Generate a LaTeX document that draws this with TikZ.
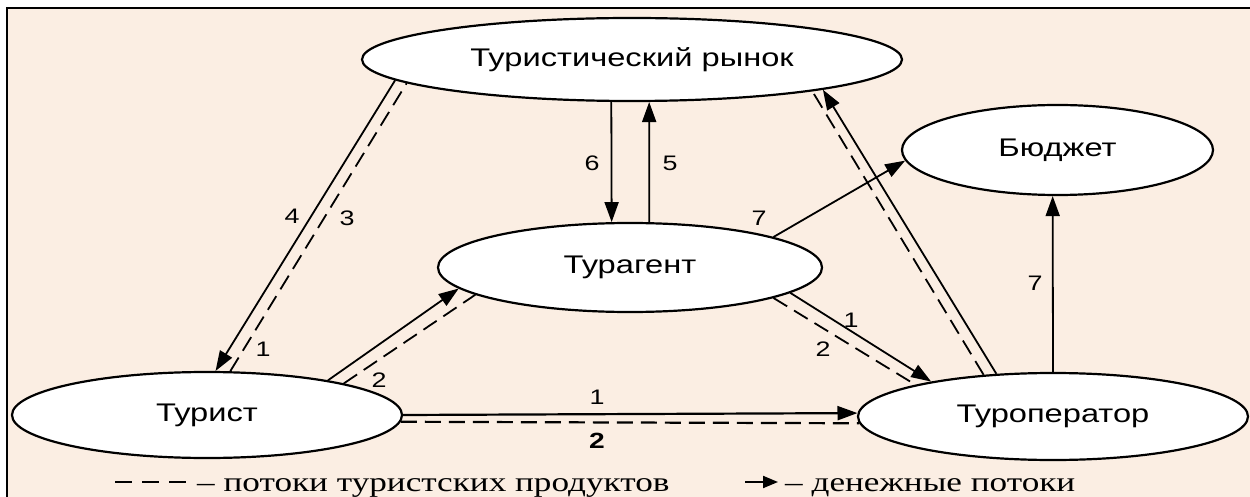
\documentclass[tikz,border=0pt]{standalone}
\usepackage{fontspec}
\setmainfont{Liberation Sans}[FakeStretch=1.28]
\newfontfamily\legendfont{Liberation Serif}[FakeStretch=1.28]
\usetikzlibrary{arrows.meta,shapes.geometric}
\definecolor{bgbeige}{RGB}{251,238,227}
\begin{document}
\begin{tikzpicture}[x=1pt,y=-1pt,
  ell/.style={ellipse, draw, fill=white, line width=2.2pt, inner sep=0pt, font=\fontsize{25.5}{27}\selectfont},
  money/.style={line width=1.8pt, -{Triangle[length=20pt,width=14pt]}},
  prod/.style={line width=1.8pt, dash pattern=on 16pt off 8pt},
  lbl/.style={inner sep=0pt, font=\fontsize{21}{23}\selectfont},
  legtext/.style={anchor=base west, inner sep=0pt, font=\legendfont\fontsize{27.5}{29}\selectfont}]
\useasboundingbox (0,0) rectangle (1250,497);
\fill[white] (0,0) rectangle (1250,497);
\fill[bgbeige] (7,8) rectangle (1250,497);
\draw[line width=2.5pt] (7,497) -- (7,8) -- (1250,8);

\node[ell, minimum width=540pt, minimum height=83pt] (M) at (632,59.5) {Туристический рынок};
\node[ell, minimum width=384pt, minimum height=89pt] (A) at (630,267.5) {Турагент};
\node[ell, minimum width=311pt, minimum height=90pt] (B) at (1057.5,150) {Бюджет};
\node[ell, minimum width=390pt, minimum height=86pt] (T) at (207,415) {Турист};
\node[ell, minimum width=390pt, minimum height=87pt] (O) at (1053,416.5) {Туроператор};

\draw[money] (M.185.2) -- (T.79.45);
\draw[prod] (T.62.76) -- (M.186.2);
\draw[money] (T.16.18) -- (A.187.5);
\draw[prod] (T.13.30) -- (A.190.15);
\draw[money, line width=2.2pt] (T.0.5) -- (O.179.06);
\draw[prod, line width=2.2pt] (T.-2.70) -- (O.182.24);
\draw[money] (A.-9.62) -- (O.164.05);
\draw[prod] (A.-12.27) -- (O.167.09);
\draw[money] (O.143.35) -- (M.-9.28);
\draw[prod] (O.149.89) -- (M.-10.74);
\draw[money] (M.244.2) -- (A.112.1);
\draw[money] (A.67.9) -- (M.-68.88);
\draw[money] (A.12.64) -- (B.184.73);
\draw[money] (O.north) -- (B.264.3);

\node[lbl] (l4) at (292,216) {4};
\node[lbl] (l3) at (347,218) {3};
\node[lbl] (l1a) at (263,349) {1};
\node[lbl] (l2a) at (379,380) {2};
\node[lbl] (l1b) at (597,397) {1};
\node[lbl, font=\fontsize{22}{24}\selectfont\bfseries] (l2b) at (597,441) {2};
\node[lbl] (l1c) at (851,320) {1};
\node[lbl] (l2c) at (823,349) {2};
\node[lbl] (l6) at (592,163) {6};
\node[lbl] (l5) at (670,163) {5};
\node[lbl] (l7a) at (759,218) {7};
\node[lbl] (l7b) at (1035,283) {7};

\coordinate (lgA) at (115,482);
\coordinate (lgB) at (187,482);
\draw[line width=2pt, dash pattern=on 17pt off 10pt] (lgA) -- (lgB);
\node[legtext] (lt1) at (197,491) {– потоки туристских продуктов};
\coordinate (la1) at (745,482);
\coordinate (la2) at (778,482);
\draw[line width=2pt, -{Triangle[length=15pt,width=12pt]}] (la1) -- (la2);
\node[legtext] (lt2) at (785,491) {– денежные потоки};
\end{tikzpicture}
\end{document}
